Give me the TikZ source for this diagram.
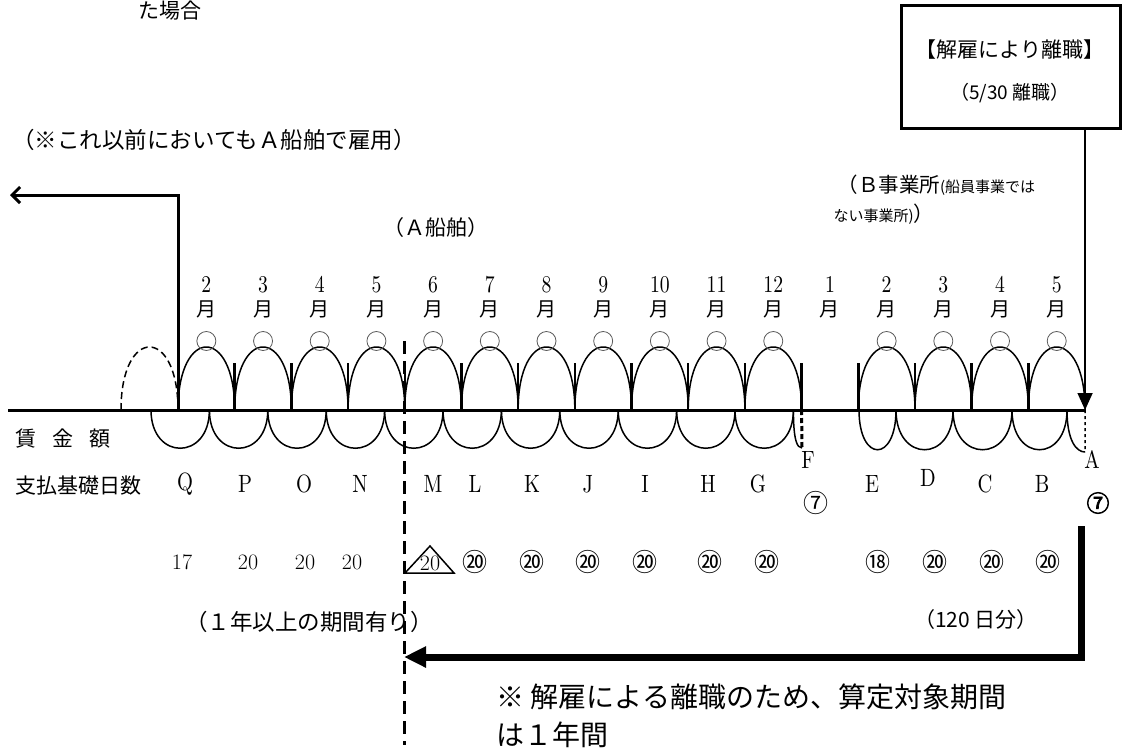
\documentclass[tikz,border=0pt]{standalone}
\usepackage{fontspec}
\usepackage{tikz}
\usetikzlibrary{positioning, arrows.meta, calc}
\newfontfamily\jp{Noto Sans CJK JP}
\newfontfamily\jpbold[FakeBold=3]{Noto Sans CJK JP}
\newfontfamily\narrowrm[Extension=.otf, FakeStretch=0.82]{lmroman10-regular}

\begin{document}
\begin{tikzpicture}[x=1pt, y=-1pt,
    arch/.style={line width=1.5pt},
    tick/.style={line width=2.5pt},
    ring/.style={draw=black!65, circle, line width=0.8pt, minimum size=19pt, inner sep=0pt},
    mon/.style={align=center, font=\narrowrm\fontsize{24}{24}\selectfont},
    lett/.style={font=\narrowrm\fontsize{25}{25}\selectfont},
    days/.style={font=\fontsize{22}{22}\selectfont},
    cnum/.style={font=\jp\fontsize{25}{25}\selectfont},
    jtxt/.style={font=\jp\fontsize{21}{21}\selectfont}]
  \useasboundingbox (0,0) rectangle (1123,747);

  % time axis and month boundaries
  \coordinate (axisL) at (8,410);
  \foreach \k in {0,...,16} \coordinate (b\k) at ({178+56.69*\k},410);
  \draw[line width=3pt] (axisL) -- (b16);
  \foreach \k in {1,...,15} \draw[tick] (b\k) -- +(0,-47);

  % months paid (upper arches)
  \foreach \k in {0,1,2,3,4,5,6,7,8,9,10,12,13,14,15} {
    \pgfmathtruncatemacro\n{\k+1}
    \draw[arch] (b\k) .. controls +(0,-84) and +(0,-84) .. (b\n);
    \node[ring] (o\k) at ({178+56.69*\k+28.35},341) {};
  }
  \coordinate (dL) at (121,410);
  \draw[arch, dash pattern=on 7pt off 4pt] (dL) .. controls +(0,-84) and +(0,-84) .. (b0);

  % month labels
  \foreach \k/\m in {0/2,1/3,2/4,3/5,4/6,5/7,6/8,7/9,8/10,9/11,10/12,11/1,12/2,13/3,14/4,15/5}
    \node[mon] (m\k) at ({178+56.69*\k+28.35},297) {\m\\\jp\fontsize{20}{24}\selectfont 月};

  % wage periods (lower arches)
  \foreach \j in {0,...,10} {
    \pgfmathtruncatemacro\n{\j+1}
    \coordinate (w\j) at ({151+58.4*\j},410);
    \coordinate (w\n) at ({151+58.4*\n},410);
    \draw[arch] (w\j) .. controls +(0,51) and +(0,51) .. (w\n);
  }
  \coordinate (fEnd) at (802,448);
  \draw[arch] (w11) .. controls +(0,30) and +(-5,0) .. (fEnd);
  \draw[line width=3pt, dash pattern=on 5pt off 3pt] (b11) -- (fEnd);
  \coordinate (e0) at (859,410); \coordinate (e1) at (896,410);
  \coordinate (e2) at (953,410); \coordinate (e3) at (1012,410);
  \coordinate (e4) at (1067,410); \coordinate (aEnd) at (1085,452);
  \draw[arch] (e0) .. controls +(0,53) and +(0,53) .. (e1);
  \draw[arch] (e1) .. controls +(0,53) and +(0,53) .. (e2);
  \draw[arch] (e2) .. controls +(0,53) and +(0,53) .. (e3);
  \draw[arch] (e3) .. controls +(0,53) and +(0,53) .. (e4);
  \draw[arch] (e4) .. controls +(0,32) and +(-8,0) .. (aEnd);
  \draw[line width=1.5pt, dashed] (b16) -- (aEnd);

  % row labels
  \node[jtxt, anchor=west] (wageLbl) at (12,439) {賃\hspace{0.75em}金\hspace{0.75em}額};
  \node[jtxt, anchor=west] (daysLbl) at (12,486) {支払基礎日数};

  % period letters
  \foreach \x/\t/\y in {185/Q/484,245/P/484,304/O/484,360/N/484,433/M/484,475/L/484,532/K/484,588/J/484,645/I/484,708/H/484,758/G/484,808/F/460,872/E/484,928/D/478,985/C/484,1042/B/484,1092/A/460}
    \node[lett] (l\t) at (\x,\y) {\t};

  % days
  \foreach \x/\v in {182/17,248/20,305/20,352/20}
    \node[days] (d\x) at (\x,562) {\v};
  \node[days] (tri20) at (430,563) {20};
  \draw[line width=1.5pt] ($(tri20)+(-25,10)$) -- ($(tri20)+(24,10)$) -- ($(tri20)+(0,-17)$) -- cycle;
  \foreach \x/\v in {475/⑳,532/⑳,588/⑳,645/⑳,710/⑳,767/⑳,878/⑱,935/⑳,992/⑳,1048/⑳}
    \node[cnum] (c\x) at (\x,562) {\v};
  \node[cnum] (f7) at (816,503) {⑦};
  \node[cnum, font=\jpbold\fontsize{23}{23}\selectfont] (a7) at (1098,503) {⑦};

  % cut-off line (one year)
  \coordinate (cutTop) at (404,341);
  \coordinate (cutBot) at (404,745);
  \draw[line width=3pt, dash pattern=on 13pt off 7pt] (cutTop) -- (cutBot);

  % earlier employment
  \node[jtxt] (caseEnd) at (170,11) {た場合};
  \coordinate (lCorner) at (178,195);
  \coordinate (lEnd) at (10,195);
  \draw[line width=3pt, -{Straight Barb[length=8pt,width=16pt]}] (b0) -- (lCorner) -- (lEnd);
  \node[jtxt, font=\jp\fontsize{22.5}{22.5}\selectfont] (before) at (214,140) {（※これ以前においてもＡ船舶で雇用）};
  \node[jtxt] (shipA) at (436,228) {（Ａ船舶）};
  \node[anchor=base west, font=\jp\fontsize{20.5}{20.5}\selectfont] (officeB1) at (834,192) {（Ｂ事業所{\fontsize{15}{15}\selectfont (船員事業では}};
  \node[anchor=base west, font=\jp\fontsize{15}{15}\selectfont] (officeB2) at (830,221) {ない事業所){\fontsize{20.5}{20.5}\selectfont ）}};

  % dismissal box
  \node[draw, line width=3pt, minimum width=219pt, minimum height=123pt] (box) at (1010.5,66.5) {};
  \node[jtxt] (boxT1) at (1010,50) {【解雇により離職】};
  \node[jtxt, font=\jp\fontsize{19}{19}\selectfont] (boxT2) at (1010,93) {（5/30 離職）};
  \draw[line width=1.5pt, -{Triangle[length=17pt,width=15pt]}] (box.south -| b16) -- (b16);

  % counting period
  \node[jtxt, font=\jp\fontsize{22.5}{22.5}\selectfont] (overYear) at (309,622) {（１年以上の期間有り）};
  \node[jtxt] (days120) at (976,620) {（120 日分）};
  \coordinate (rTop) at (1081,526);
  \coordinate (rCorner) at (1081,657);
  \coordinate (rTip) at (404,657);
  \draw[line width=7pt, -{Triangle[length=22pt,width=20pt]}] (rTop) -- (rCorner) -- (rTip);
  \node[anchor=west, font=\jp\fontsize{28}{28}\selectfont] (note1) at (493,697) {※ 解雇による離職のため、算定対象期間};
  \node[anchor=west, font=\jp\fontsize{28}{28}\selectfont] (note2) at (493,735) {は１年間};
\end{tikzpicture}
\end{document}
